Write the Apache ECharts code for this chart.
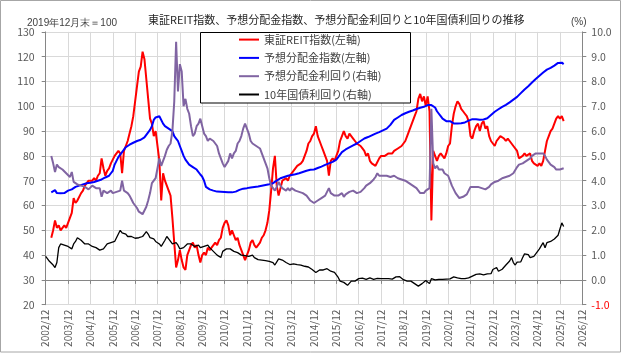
<!DOCTYPE html>
<html>
<head>
<meta charset="utf-8">
<script src="https://cdn.jsdelivr.net/npm/echarts@6/dist/echarts.min.js"></script>
<style>
html,body{margin:0;padding:0;background:#fff;}
#chart{width:634px;height:355px;}
</style>
</head>
<body>
<div id="chart"></div>
<script>
// Monthly values, first entry = 2002/12, last = 2026/02
const xTickLabels = ['2002/12','2003/12','2004/12','2005/12','2006/12','2007/12','2008/12','2009/12','2010/12','2011/12','2012/12','2013/12','2014/12','2015/12','2016/12','2017/12','2018/12','2019/12','2020/12','2021/12','2022/12','2023/12','2024/12','2025/12','2026/12'];

const reitIndex = [
  null,
  null,null,47,50,54,51,52,50,51,52,51,53,
  55,57,63,61,62,62,65,66,68,69,70,70,
  70,71,70,72,73,79,75,72,74,75,77,77,
  80,80,82,81,73,82,84,86,89,92,96,102,
  108,114,116,122,119,111,103,95,93,88,90,84,
  78,62,73,70,68,66,64,55,45,35,38,42,
  38,35,34,40,42,44,45,43,44,40,37,40,
  41,40,43,42,43,44,45,44,46,47,51,53,
  54,52,48,50,48,46,47,44,42,40,38,40,
  42,45,46,44,43,43,45,47,48,50,53,58,
  66,75,80,68,64,67,70,70,71,70,72,72,
  74,75,76,76,77,78,80,82,85,86,88,89,
  92,88,86,84,82,80,78,72,78,79,78,80,
  82,86,88,90,88,87,89,88,87,86,85,85,
  84,83,82,80,81,78,77,77,76,76,79,80,
  80,80,80,81,81,81,82,82,83,83,84,85,
  86,88,90,92,94,96,98,103,105,102,104,100,
  104,98,54,82,82,78,80,81,80,79,81,84,
  85,92,97,100,102,101,99,98,97,96,94,88,
  87,90,92,93,90,93,94,91,92,88,86,85,
  84,86,87,88,88,87,86,87,86,85,84,84,
  82,79,79,80,81,80,80,81,78,77,77,76,
  77,76,78,82,86,88,90,91,93,95,96,95,
  96,94
];

const distIndex = [
  null,
  null,null,65.3,66,66.2,65,65,64.9,64.9,65,65.5,66,
  66,66.5,67,67.5,68,68,68.3,68.5,69,69,69,69.2,
  69.5,69.5,70,70,70.3,70.5,71,71.3,71.6,72,73,74,
  76.5,78,79.5,80.5,81.5,82.5,83.5,84,84.5,85,85.3,85.5,
  86,86,86.5,87,87.5,88.5,89.5,90.5,92,94.5,95.5,95.8,
  96,95.5,93,92,91.5,91,90.5,90,88,87,86,84,
  82,80,78.5,77.5,76.5,76,75.5,75,74.5,74,72.5,71.6,
  70,67.5,67,66.5,66,66,65.8,65.6,65.6,65.5,65.5,65.4,
  65.4,65.3,65.3,65.3,65.4,65.6,66,66.3,66.5,66.8,67,67,
  67.2,67.3,67.4,67.5,67.6,67.7,67.8,68,68.2,68.3,68.4,68.6,
  68.8,69,69.5,70,70.5,71,71.3,71.5,71.8,72,72.2,72.3,
  72.5,72.6,72.8,73,73.2,73.5,73.8,74,74.2,74.4,74.5,74.5,
  74.8,75.1,75.4,75.7,76,76.4,76.7,77,77.3,77.6,78,78.5,
  79.5,80.5,81.5,82.2,82.6,83,83.4,83.8,84.2,84.5,85,85.5,
  86,86.5,87,87.3,87.6,88,88.3,88.6,89,89.3,89.6,90,
  90.3,90.6,91,91.5,92.5,93.5,94.5,95,95.5,96,96.5,97,
  97.2,97.5,97.8,98,98.3,98.6,98.9,99.2,99.4,99.6,99.8,100,
  100.5,100.8,100.5,100,99.5,98,97,96,95,94.5,94,94.5,
  94,93.3,93.1,93.1,93.1,93.1,93.2,93.3,93.5,93.8,94.2,94.5,
  94.8,95,94.8,94.7,94.6,94.6,94.7,94.8,95.2,95.8,96.5,97.2,
  97.8,98.3,98.8,99.3,99.8,100.2,100.6,101.1,101.6,102.2,102.7,103.2,
  103.8,104.5,105.3,106.1,106.8,107.4,108.1,108.8,109.6,110.3,111,111.6,
  112.3,113,113.6,114.2,114.8,115.2,115.5,115.8,116.4,117,117.5,118,
  117.6,117
];

const distYield = [
  null,
  null,null,5.0,4.7,4.35,4.65,4.55,4.5,4.45,4.4,4.3,4.3,
  4.15,4.35,3.95,3.9,3.85,3.8,3.8,3.75,3.75,3.7,3.65,3.7,
  3.8,3.75,3.7,3.7,3.7,3.35,3.6,3.55,3.5,3.55,3.6,3.5,
  3.5,3.55,3.5,3.6,4.0,3.6,3.55,3.5,3.4,3.25,3.1,3.0,
  2.9,2.75,2.7,2.65,2.65,2.95,3.2,3.5,3.9,4.0,4.1,4.5,
  4.9,4.6,4.8,5.0,5.25,5.4,5.5,6.0,7.2,9.6,7.6,8.7,
  8.4,7.0,7.3,6.9,6.7,6.2,5.8,5.9,6.2,6.3,6.5,6.5,
  5.9,5.8,5.6,5.7,5.75,5.6,5.6,5.4,5.1,4.9,4.7,4.55,
  4.6,4.8,5.1,4.9,5.1,5.2,5.5,5.6,5.8,6.1,6.3,6.1,
  5.9,5.6,5.5,5.45,5.4,5.4,5.3,5.1,4.9,4.7,4.5,4.1,
  3.8,3.7,3.6,3.75,3.95,3.8,3.7,3.65,3.6,3.7,3.6,3.7,
  3.65,3.6,3.6,3.55,3.55,3.5,3.45,3.4,3.3,3.2,3.15,3.1,
  3.1,3.2,3.25,3.3,3.35,3.4,3.45,3.7,3.5,3.45,3.4,3.35,
  3.4,3.45,3.5,3.35,3.45,3.5,3.55,3.6,3.6,3.55,3.5,3.5,
  3.55,3.6,3.7,3.8,3.85,3.9,3.95,4.05,4.15,4.3,4.2,4.2,
  4.2,4.25,4.2,4.2,4.15,4.15,4.2,4.15,4.1,4.1,4.05,4.0,
  4.0,3.95,3.9,3.85,3.8,3.75,3.7,3.6,3.5,3.55,3.5,3.6,
  3.6,3.7,6.9,4.7,4.5,4.6,4.45,4.4,4.45,4.3,4.3,4.2,
  4.0,3.8,3.65,3.5,3.4,3.3,3.3,3.35,3.4,3.45,3.6,3.75,
  3.8,3.75,3.7,3.75,3.8,3.7,3.65,3.65,3.6,3.75,3.85,3.9,
  3.95,3.95,4.0,4.05,4.1,4.1,4.15,4.15,4.2,4.25,4.3,4.35,
  4.55,4.65,4.6,4.7,4.75,4.8,4.85,4.9,5.0,5.05,5.1,5.15,
  5.1,5.15,5.1,5.0,4.85,4.75,4.65,4.6,4.55,4.45,4.45,4.45,
  4.4,4.5
];

const jgb10y = [
  0.95,
  0.85,0.75,0.7,0.6,0.5,0.7,1.3,1.45,1.5,1.4,1.35,1.35,
  1.3,1.25,1.45,1.55,1.7,1.75,1.6,1.55,1.45,1.45,1.45,1.4,
  1.35,1.4,1.3,1.25,1.2,1.2,1.25,1.35,1.45,1.5,1.5,1.5,
  1.55,1.7,1.85,2.0,1.9,1.9,1.85,1.75,1.7,1.75,1.7,1.68,
  1.7,1.7,1.65,1.75,1.85,1.95,1.85,1.7,1.7,1.65,1.55,1.5,
  1.45,1.35,1.3,1.6,1.75,1.65,1.6,1.45,1.5,1.5,1.4,1.25,
  1.3,1.3,1.35,1.45,1.5,1.45,1.4,1.35,1.35,1.4,1.3,1.3,
  1.35,1.35,1.4,1.3,1.25,1.15,1.1,1.0,0.95,0.9,1.15,1.2,
  1.25,1.3,1.25,1.2,1.15,1.15,1.1,1.05,1.0,1.0,0.98,0.98,
  0.95,0.95,1.0,0.9,0.85,0.82,0.78,0.8,0.8,0.78,0.72,0.75,
  0.75,0.7,0.6,0.6,0.85,0.85,0.8,0.75,0.7,0.62,0.62,0.7,
  0.65,0.6,0.62,0.62,0.6,0.57,0.55,0.5,0.52,0.47,0.42,0.35,
  0.3,0.38,0.4,0.35,0.4,0.48,0.45,0.4,0.35,0.3,0.3,0.27,
  0.1,-0.05,-0.05,-0.1,-0.12,-0.22,-0.2,-0.05,-0.08,-0.05,0.02,0.05,
  0.08,0.07,0.06,0.02,0.05,0.08,0.07,0.02,0.05,0.06,0.04,0.05,
  0.08,0.05,0.04,0.05,0.04,0.03,0.1,0.12,0.13,0.13,0.1,0.01,
  0.0,-0.05,-0.08,-0.05,-0.1,-0.15,-0.15,-0.25,-0.2,-0.15,-0.08,-0.02,
  -0.05,-0.15,0.05,0.0,0.0,0.03,0.02,0.03,0.02,0.04,0.03,0.02,
  0.04,0.08,0.12,0.1,0.08,0.06,0.05,0.03,0.05,0.08,0.08,0.07,
  0.15,0.2,0.22,0.23,0.24,0.22,0.2,0.22,0.24,0.25,0.25,0.42,
  0.48,0.5,0.35,0.42,0.43,0.4,0.6,0.65,0.76,0.9,0.7,0.6,
  0.72,0.72,0.73,0.9,1.05,1.05,1.02,0.9,0.85,0.95,1.05,1.1,
  1.25,1.38,1.5,1.3,1.5,1.45,1.55,1.6,1.65,1.68,1.8,2.05,
  2.3,2.15
];

const seriesNames = ['東証REIT指数(左軸)','予想分配金指数(左軸)','予想分配金利回り(右軸)','10年国債利回り(右軸)'];
const titleText = '東証REIT指数、予想分配金指数、予想分配金利回りと10年国債利回りの推移';

const toPairs = arr => arr.map((v, i) => [i, v]);
const FONT = '"Noto Sans CJK JP", "Noto Sans", sans-serif';
const labelColor = '#595959';

const chart = echarts.init(document.getElementById('chart'), null, {renderer: 'canvas'});
chart.setOption({
  animation: false,
  backgroundColor: '#ffffff',
  textStyle: {fontFamily: FONT},
  title: {
    text: titleText, left: 143, top: 9,
    textStyle: {fontSize: 11, fontWeight: 'normal', color: '#262626', fontFamily: FONT}
  },
  grid: {left: 45.7, right: 51.7, top: 31.9, bottom: 50.3},
  legend: {
    orient: 'vertical', left: 239, top: 32.6, padding: 0,
    icon: 'rect', itemWidth: 20, itemHeight: 2, itemGap: 4.3,
    textStyle: {fontSize: 11, lineHeight: 14, color: '#404040', fontFamily: FONT},
    data: seriesNames, z: 10
  },
  graphic: [
    {type: 'rect', z: 9, shape: {x: 200.5, y: 32.5, width: 210, height: 70.5},
     style: {fill: '#ffffff', stroke: '#000000', lineWidth: 1}},
    {type: 'rect', z: 9, shape: {x: 0.5, y: 0.5, width: 620, height: 351.5},
     style: {fill: 'none', stroke: '#a6a6a6', lineWidth: 1}},
    {type: 'text', z: 9, left: 27, top: 18,
     style: {text: '2019年12月末＝100', fontSize: 10, fill: '#404040', font: '10px ' + FONT}},
    {type: 'text', z: 9, left: 571, top: 17,
     style: {text: '(%)', fontSize: 10, fill: '#404040', font: '10px ' + FONT}}
  ],
  xAxis: {
    type: 'value', min: 0, max: 288, interval: 12,
    axisLine: {show: true, lineStyle: {color: '#868686', width: 1}},
    axisTick: {show: true, length: 4, lineStyle: {color: '#868686'}},
    splitLine: {show: true, lineStyle: {color: '#d9d9d9', width: 1}},
    axisLabel: {
      rotate: 90, margin: 5, fontSize: 10, color: labelColor,
      formatter: v => xTickLabels[Math.round(v / 12)]
    }
  },
  yAxis: [
    {
      type: 'value', min: 20, max: 130, interval: 10, position: 'left',
      axisLine: {show: true, lineStyle: {color: '#868686'}},
      axisTick: {show: true, length: 4, lineStyle: {color: '#868686'}},
      splitLine: {show: true, lineStyle: {color: '#d9d9d9', width: 1}},
      axisLabel: {fontSize: 10.5, color: labelColor, margin: 11}
    },
    {
      type: 'value', min: -1, max: 10, interval: 1, position: 'right',
      axisLine: {show: true, lineStyle: {color: '#868686'}},
      axisTick: {show: true, length: 4, lineStyle: {color: '#868686'}},
      splitLine: {show: false},
      axisLabel: {
        fontSize: 10.5, margin: 9,
        formatter: v => v.toFixed(1),
        color: v => (Number(v) < 0 ? '#FF0000' : labelColor)
      }
    }
  ],
  series: [
    {name: seriesNames[0], type: 'line', yAxisIndex: 0, symbol: 'none', data: toPairs(reitIndex),
     lineStyle: {color: '#FF0000', width: 2}, itemStyle: {color: '#FF0000'}},
    {name: seriesNames[1], type: 'line', yAxisIndex: 0, symbol: 'none', data: toPairs(distIndex),
     lineStyle: {color: '#0000FF', width: 2}, itemStyle: {color: '#0000FF'}},
    {name: seriesNames[2], type: 'line', yAxisIndex: 1, symbol: 'none', data: toPairs(distYield),
     lineStyle: {color: '#8064A2', width: 2}, itemStyle: {color: '#8064A2'}},
    {name: seriesNames[3], type: 'line', yAxisIndex: 1, symbol: 'none', data: toPairs(jgb10y),
     lineStyle: {color: '#000000', width: 1.3}, itemStyle: {color: '#000000'}}
  ]
});
</script>
</body>
</html>
